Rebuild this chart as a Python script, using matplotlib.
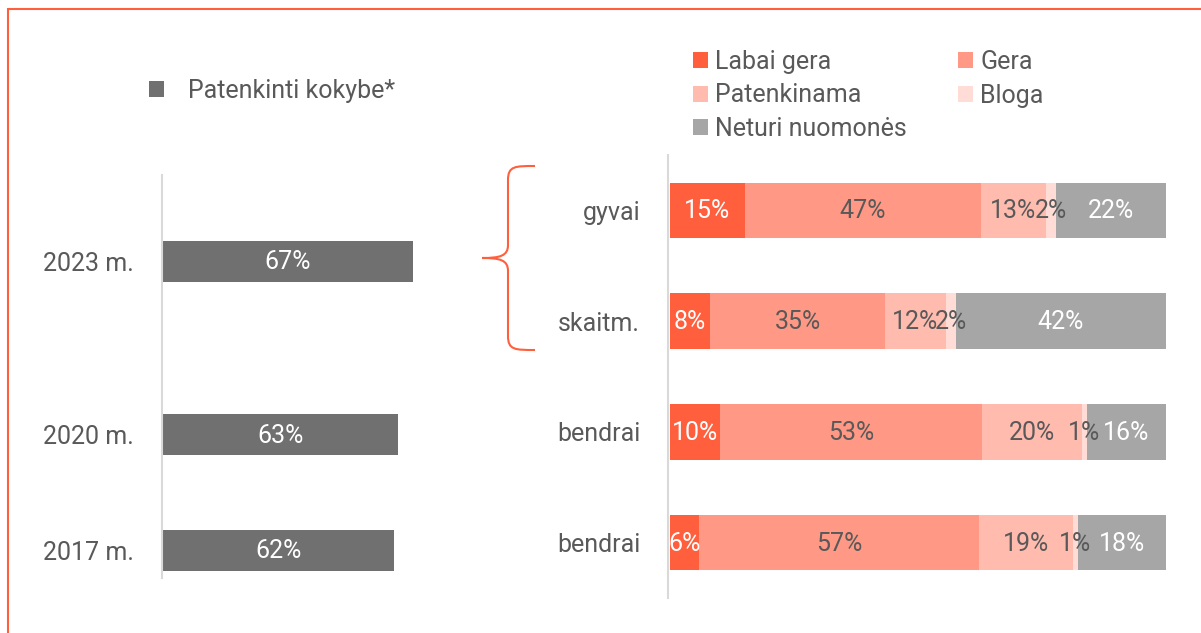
import matplotlib
matplotlib.use("Agg")
import matplotlib.pyplot as plt
from matplotlib.patches import Rectangle, PathPatch
from matplotlib.path import Path
import numpy as np

# ---------------- data ----------------
years = ["2023 m.", "2020 m.", "2017 m."]
satisfied = [67, 63, 62]
left_legend = "Patenkinti kokybe*"

rows = ["gyvai", "skaitm.", "bendrai", "bendrai"]
labai_gera = [15, 8, 10, 6]
gera = [47, 35, 53, 57]
patenkinama = [13, 12, 20, 19]
bloga = [2, 2, 1, 1]
neturi = [22, 42, 16, 18]
series_names = ["Labai gera", "Gera", "Patenkinama", "Bloga", "Neturi nuomonės"]

# ---------------- style ----------------
W, H = 1201, 633
DPI = 100
TXT = "#595959"
ORANGE = "#FF5F3C"
colors = ["#FF5F3C", "#FF9985", "#FFBBAE", "#FFDDD6", "#A6A6A6"]
label_colors = ["white", TXT, TXT, TXT, "white"]
FS = 18

plt.rcParams['font.family'] = ['Roboto', 'DejaVu Sans']

fig = plt.figure(figsize=(W / DPI, H / DPI), dpi=DPI)


def px_axes(x0, y0, x1, y1):
    return fig.add_axes([x0 / W, 1 - y1 / H, (x1 - x0) / W, (y1 - y0) / H])


# border
fig.patches.append(Rectangle((8 / W, -0.1), 1.2, 1 - 9 / H + 0.1, transform=fig.transFigure,
                             fill=False, edgecolor=ORANGE, linewidth=1.5))

# ---------------- left chart ----------------
axL = px_axes(162, 175, 162 + 374, 578)
ypos_left = [0.775, 2.34, 3.38]
barsL = axL.barh(ypos_left, satisfied, height=0.37, color="#707070", label=left_legend)
axL.set_ylim(3.63, 0)
axL.set_xlim(-0.3, 100)
for b, v in zip(barsL, satisfied):
    axL.text(b.get_x() + b.get_width() / 2, b.get_y() + b.get_height() / 2 + 0.01, f"{v}%",
             ha="center", va="center", color="white", fontsize=FS)
axL.set_yticks(ypos_left)
axL.set_yticklabels(years, fontsize=FS, color=TXT)
axL.tick_params(axis="y", length=0, pad=20)
axL.set_xticks([])
for s in ["top", "right", "bottom"]:
    axL.spines[s].set_visible(False)
axL.spines["left"].set_color("#D9D9D9")
axL.spines["left"].set_linewidth(1.5)

fig.legend(handles=[barsL], labels=[left_legend], loc="center left",
           bbox_to_anchor=(149 / W, 1 - 91 / H), frameon=False, fontsize=FS,
           labelcolor=TXT, handlelength=0.6, handleheight=0.6, handletextpad=0.96,
           borderpad=0, borderaxespad=0)

# ---------------- right chart ----------------
axR = px_axes(668, 155, 1166, 598)
data = np.array([labai_gera, gera, patenkinama, bloga, neturi], dtype=float)
totals = data.sum(axis=0)
share = data / totals * 100
ypos = np.arange(len(rows))
left = np.zeros(len(rows))
handles = []
for i, name in enumerate(series_names):
    bars = axR.barh(ypos, share[i], left=left, height=0.5, color=colors[i], label=name,
                    edgecolor="none")
    handles.append(bars)
    for j, b in enumerate(bars):
        axR.text(left[j] + share[i][j] / 2, ypos[j] + 0.01, f"{int(data[i][j])}%",
                 ha="center", va="center", color=label_colors[i], fontsize=FS)
    left += share[i]
axR.set_ylim(3.5, -0.5)
axR.set_xlim(-0.4, 100)
axR.set_yticks(ypos)
axR.set_yticklabels(rows, fontsize=FS, color=TXT)
axR.tick_params(axis="y", length=0, pad=20)
axR.set_xticks([])
for s in ["top", "right", "bottom"]:
    axR.spines[s].set_visible(False)
axR.spines["left"].set_color("#D9D9D9")
axR.spines["left"].set_linewidth(1.5)

order = [0, 2, 4, 1, 3]
fig.legend(handles=[handles[k] for k in order], labels=[series_names[k] for k in order],
           loc="upper left", bbox_to_anchor=(693 / W, 1 - 50 / H), ncol=2, frameon=False,
           fontsize=FS, labelcolor=TXT, handlelength=0.6, handleheight=0.6,
           handletextpad=0.28, columnspacing=2.06, labelspacing=0.38, borderpad=0,
           borderaxespad=0)

# ---------------- brace ----------------
def fx(x):
    return x / W


def fy(y):
    return 1 - y / H


verts = [
    (535, 166), (515, 166), (508, 166), (508, 180),
    (508, 245),
    (508, 256), (500, 258), (482, 258),
    (500, 258), (508, 260), (508, 271),
    (508, 336),
    (508, 350), (515, 350), (535, 350),
]
codes = [Path.MOVETO, Path.CURVE4, Path.CURVE4, Path.CURVE4,
         Path.LINETO,
         Path.CURVE4, Path.CURVE4, Path.CURVE4,
         Path.CURVE4, Path.CURVE4, Path.CURVE4,
         Path.LINETO,
         Path.CURVE4, Path.CURVE4, Path.CURVE4]
path = Path([(fx(x), fy(y)) for x, y in verts], codes)
fig.patches.append(PathPatch(path, transform=fig.transFigure, fill=False,
                             edgecolor=ORANGE, linewidth=1.5))

fig.savefig("out.png", dpi=DPI, facecolor="white")
